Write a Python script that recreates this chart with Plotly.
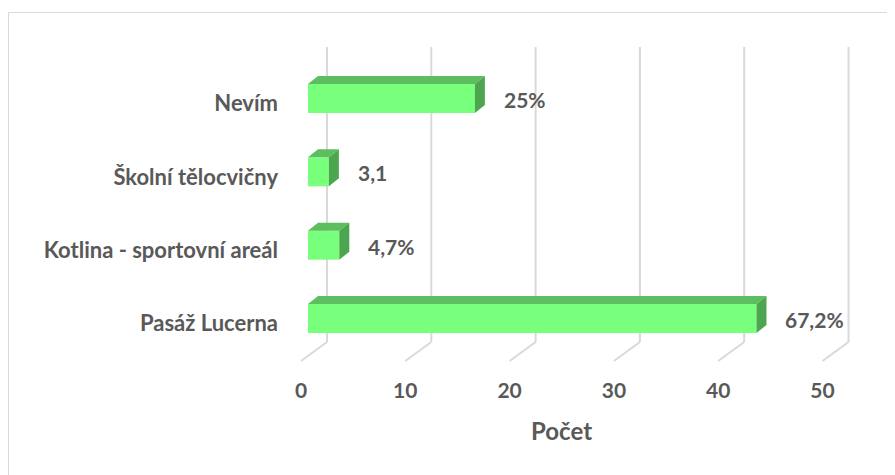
import plotly.graph_objects as go

# ---- data ----
categories = ["Pasáž Lucerna", "Kotlina - sportovní areál", "Školní tělocvičny", "Nevím"]
counts = [43, 3, 2, 16]
value_labels = ["67,2%", "4,7%", "3,1", "25%"]
tick_values = [0, 10, 20, 30, 40, 50]
tick_labels = ["0", "10", "20", "30", "40", "50"]
axis_title = "Počet"

# ---- layout constants (pixels) ----
W, H = 895, 475
OFF = 8              # page body margin compensation
PXU = 10.43          # pixels per unit on the value axis
ZERO_PX = 308 - OFF  # pixel position of value 0 (bar front plane)
L, T = 297 - OFF, 47 - OFF
R = 43 + OFF
B = 133 + OFF
x_lo = -(ZERO_PX - L) / PXU
x_hi = x_lo + (W - L - R) / PXU
plot_h = H - T - B
CAT_PX = 73.33       # pixels per category
y_bottom_px = 23.5   # distance from lowest bar centre to floor
y_lo = -y_bottom_px / CAT_PX
y_hi = y_lo + plot_h / CAT_PX

BAR_PX = 29
bar_w = BAR_PX / CAT_PX
DX, DY = 10, 8      # 3D depth offset in pixels
BACK_DX = 19         # back wall offset from bar front plane
FLOOR_DX, FLOOR_DY = 26, 19
LABEL_SHIFT = -7

FRONT = "#78FF7B"
TOP = "#5CBE5F"
SIDE = "#4CA54F"
GRID = "#D9D9D9"
TXT = "#595959"
FONT = "Lato"

idx = list(range(len(categories)))

fig = go.Figure()
fig.add_trace(go.Bar(
    x=counts, y=idx, orientation="h", width=bar_w, base=0,
    marker=dict(color=FRONT, line=dict(width=0)),
    hoverinfo="skip",
))

shapes = []
# back-wall gridlines + floor diagonals
for t in tick_values:
    shapes.append(dict(type="line", xref="x", yref="paper", xsizemode="pixel", xanchor=t,
                       x0=BACK_DX, x1=BACK_DX, y0=0, y1=1, layer="below",
                       line=dict(color=GRID, width=2)))
    shapes.append(dict(type="path", xref="x", yref="paper", xsizemode="pixel", xanchor=t,
                       ysizemode="pixel", yanchor=0,
                       path=f"M{BACK_DX},0 L{BACK_DX - FLOOR_DX},{-FLOOR_DY}", layer="below",
                       line=dict(color=GRID, width=2)))

half = BAR_PX / 2
dx_data = DX / PXU
for i, v in zip(idx, counts):
    # top face
    shapes.append(dict(type="path", xref="x", yref="y", ysizemode="pixel", yanchor=i,
                       path=f"M0,{half} L{v},{half} L{v + dx_data},{half + DY} L{dx_data},{half + DY} Z",
                       fillcolor=TOP, line=dict(width=0), layer="above"))
    # side face
    shapes.append(dict(type="path", xref="x", yref="y", xsizemode="pixel", xanchor=v,
                       ysizemode="pixel", yanchor=i,
                       path=f"M0,{half} L{DX},{half + DY} L{DX},{-half + DY} L0,{-half} Z",
                       fillcolor=SIDE, line=dict(width=0), layer="above"))

# outer border (starts at 8,12 in the page)
plot_w = W - L - R
bx0, by0 = 8.5 - OFF, 12.5 - OFF
shapes.append(dict(type="rect", xref="paper", yref="paper",
                   x0=(bx0 - L) / plot_w, x1=(W + 5 - L) / plot_w,
                   y0=(H - (H + 5) - B) / plot_h, y1=(H - by0 - B) / plot_h,
                   line=dict(color=GRID, width=1), fillcolor="rgba(0,0,0,0)", layer="below"))

annotations = []
for i, v, lab in zip(idx, counts, value_labels):
    annotations.append(dict(x=v, y=i, xref="x", yref="y", text=lab, showarrow=False,
                            xanchor="left", yanchor="middle", xshift=27, yshift=-1,
                            font=dict(family=FONT, size=21, color=TXT, weight="bold")))
annotations.append(dict(x=(tick_values[0] + tick_values[-1]) / 2, y=0, xref="x", yref="paper",
                        text=axis_title, showarrow=False, xanchor="center", yanchor="middle",
                        xshift=LABEL_SHIFT, yshift=-88,
                        font=dict(family=FONT, size=24, color=TXT, weight="bold")))

fig.update_layout(
    width=W, height=H,
    margin=dict(l=L, r=R, t=T, b=B, pad=0),
    paper_bgcolor="white", plot_bgcolor="white",
    showlegend=False,
    shapes=shapes, annotations=annotations,
    xaxis=dict(range=[x_lo, x_hi], tickvals=tick_values, ticktext=tick_labels,
               showgrid=False, zeroline=False, showline=False, ticks="", automargin=False,
               ticklabelshift=LABEL_SHIFT, ticklabelstandoff=34,
               tickfont=dict(family=FONT, size=21, color=TXT, weight="bold")),
    yaxis=dict(range=[y_lo, y_hi], tickvals=idx, ticktext=categories,
               showgrid=False, zeroline=False, showline=False, ticks="", automargin=False,
               ticklabelshift=5, ticklabelstandoff=18,
               tickfont=dict(family=FONT, size=22, color=TXT, weight="bold")),
)

fig.write_html("out.html")
